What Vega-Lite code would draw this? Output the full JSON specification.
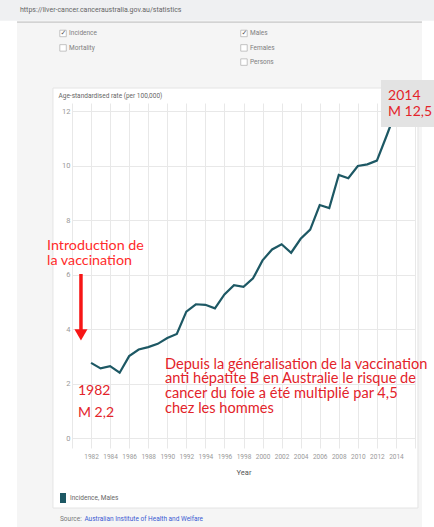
{
  "$schema": "https://vega.github.io/schema/vega-lite/v6.json",
  "width": 343,
  "height": 345,
  "autosize": {"type": "none"},
  "padding": {"left": 72, "top": 103, "right": 19, "bottom": 79},
  "background": "#ffffff",
  "config": {"view": {"stroke": null}, "font": "Lato", "axis": {"titleFontWeight": "normal"}},
  "datasets": {
    "series": [
      {"year": 1982, "rate": 2.77, "series": "Incidence, Males"},
      {"year": 1983, "rate": 2.57, "series": "Incidence, Males"},
      {"year": 1984, "rate": 2.65, "series": "Incidence, Males"},
      {"year": 1985, "rate": 2.41, "series": "Incidence, Males"},
      {"year": 1986, "rate": 3.02, "series": "Incidence, Males"},
      {"year": 1987, "rate": 3.26, "series": "Incidence, Males"},
      {"year": 1988, "rate": 3.35, "series": "Incidence, Males"},
      {"year": 1989, "rate": 3.47, "series": "Incidence, Males"},
      {"year": 1990, "rate": 3.68, "series": "Incidence, Males"},
      {"year": 1991, "rate": 3.83, "series": "Incidence, Males"},
      {"year": 1992, "rate": 4.65, "series": "Incidence, Males"},
      {"year": 1993, "rate": 4.92, "series": "Incidence, Males"},
      {"year": 1994, "rate": 4.9, "series": "Incidence, Males"},
      {"year": 1995, "rate": 4.77, "series": "Incidence, Males"},
      {"year": 1996, "rate": 5.28, "series": "Incidence, Males"},
      {"year": 1997, "rate": 5.62, "series": "Incidence, Males"},
      {"year": 1998, "rate": 5.56, "series": "Incidence, Males"},
      {"year": 1999, "rate": 5.87, "series": "Incidence, Males"},
      {"year": 2000, "rate": 6.53, "series": "Incidence, Males"},
      {"year": 2001, "rate": 6.93, "series": "Incidence, Males"},
      {"year": 2002, "rate": 7.12, "series": "Incidence, Males"},
      {"year": 2003, "rate": 6.81, "series": "Incidence, Males"},
      {"year": 2004, "rate": 7.32, "series": "Incidence, Males"},
      {"year": 2005, "rate": 7.66, "series": "Incidence, Males"},
      {"year": 2006, "rate": 8.56, "series": "Incidence, Males"},
      {"year": 2007, "rate": 8.45, "series": "Incidence, Males"},
      {"year": 2008, "rate": 9.66, "series": "Incidence, Males"},
      {"year": 2009, "rate": 9.54, "series": "Incidence, Males"},
      {"year": 2010, "rate": 9.99, "series": "Incidence, Males"},
      {"year": 2011, "rate": 10.05, "series": "Incidence, Males"},
      {"year": 2012, "rate": 10.19, "series": "Incidence, Males"},
      {"year": 2013, "rate": 11.08, "series": "Incidence, Males"},
      {"year": 2014, "rate": 12.0, "series": "Incidence, Males"}
    ],
    "frame": [
      {"x1": 1974.23, "x2": 2016.73, "y1": 12.85, "y2": 15.27},
      {"x1": 1974.23, "x2": 2016.73, "y1": -3.4, "y2": -2.55},
      {"x1": 1974.23, "x2": 1978.0, "y1": -2.55, "y2": 12.85},
      {"x1": 2016.31, "x2": 2016.73, "y1": -2.55, "y2": 12.85}
    ],
    "urlbar": [{"x1": 1972.2, "x2": 2018.3, "y1": 15.32, "y2": 16.2}],
    "underline": [{"x1": 1974.23, "x2": 2016.73, "y1": 15.23, "y2": 15.3}],
    "panel": [{"x1": 1978.0, "x2": 2016.31, "y1": -2.55, "y2": 12.85}],
    "box": [{"x1": 2012.43, "x2": 2018.3, "y1": 11.42, "y2": 13.14}],
    "checkboxes": [
      {"x": 1979.06, "y": 14.85},
      {"x": 1979.06, "y": 14.32},
      {"x": 1998.05, "y": 14.85},
      {"x": 1998.05, "y": 14.32},
      {"x": 1998.05, "y": 13.8}
    ],
    "checks": [
      {"x": 1979.1, "y": 14.86, "label": "✓"},
      {"x": 1998.09, "y": 14.86, "label": "✓"}
    ],
    "options": [
      {"x": 1979.69, "y": 14.85, "label": "Incidence"},
      {"x": 1979.69, "y": 14.32, "label": "Mortality"},
      {"x": 1998.68, "y": 14.85, "label": "Males"},
      {"x": 1998.68, "y": 14.32, "label": "Females"},
      {"x": 1998.68, "y": 13.8, "label": "Persons"}
    ],
    "url": [{"x": 1974.54, "y": 15.71, "label": "https://liver-cancer.canceraustralia.gov.au/statistics"}],
    "arrow": [{"x": 1980.94, "y1": 6.03, "y2": 3.95}],
    "arrowhead": [{"x": 1980.94, "y": 3.8}],
    "intro": [
      {"x": 1977.38, "y": 7.07, "label": "Introduction de"},
      {"x": 1977.38, "y": 6.51, "label": "la vaccination"}
    ],
    "numbers": [
      {"x": 1980.63, "y": 1.739, "label": "1982"},
      {"x": 1980.63, "y": 0.932, "label": "M 2,2"},
      {"x": 2013.17, "y": 12.557, "label": "2014"},
      {"x": 2013.17, "y": 11.97, "label": "M 12,5"}
    ],
    "notes": [
      {"x": 1989.76, "y": 2.711, "label": "Depuis la généralisation de la vaccination"},
      {"x": 1989.76, "y": 2.168, "label": "anti hépatite B en Australie le risque de"},
      {"x": 1989.76, "y": 1.625, "label": "cancer du foie a été multiplié par 4,5"},
      {"x": 1989.76, "y": 1.083, "label": "chez les hommes"}
    ],
    "source": [{"x": 1978.74, "y": -2.955, "label": "Source:"}],
    "sourcelink": [{"x": 1981.3, "y": -2.955, "label": "Australian Institute of Health and Welfare"}]
  },
  "layer": [
    {
      "data": {"name": "frame"},
      "mark": {"type": "rect", "fill": "#f5f5f5", "clip": false},
      "encoding": {
        "x": {
          "field": "x1", "type": "quantitative",
          "scale": {"domain": [1980, 2016], "nice": false, "zero": false},
          "axis": {
            "title": "Year",
            "values": [1980, 1982, 1984, 1986, 1988, 1990, 1992, 1994, 1996, 1998, 2000, 2002, 2004, 2006, 2008, 2010, 2012, 2014, 2016],
            "tickCount": 40,
            "labelExpr": "datum.value == 1980 || datum.value == 2016 ? '' : datum.label",
            "format": "d",
            "labelOverlap": false,
            "grid": true, "gridColor": "#e8e8e8", "domain": false, "ticks": false,
            "labelFont": "Liberation Sans Narrow, Roboto, sans-serif",
            "labelFontSize": 6.5, "labelColor": "#999999", "labelPadding": 5,
            "titleFont": "Liberation Sans Narrow, Roboto, sans-serif",
            "titleFontSize": 7.5, "titleFontWeight": "normal", "titleColor": "#555555", "titlePadding": 9
          }
        },
        "x2": {"field": "x2"},
        "y": {
          "field": "y1", "type": "quantitative",
          "scale": {"domain": [-0.35, 12.3], "nice": false, "zero": false},
          "axis": {
            "title": "Age-standardised rate (per 100,000)",
            "values": [0, 2, 4, 6, 8, 10, 12],
            "format": "d",
            "labelOverlap": false,
            "grid": true, "gridColor": "#e8e8e8", "domain": false, "ticks": false,
            "labelFont": "Liberation Sans Narrow, Roboto, sans-serif",
            "labelFontSize": 7.5, "labelColor": "#999999", "labelPadding": 2,
            "titleFont": "Liberation Sans Narrow, Roboto, sans-serif",
            "titleAngle": 0, "titleAlign": "left", "titleBaseline": "middle",
            "titleX": -14, "titleY": -8,
            "titleFontSize": 6.5, "titleFontWeight": "normal", "titleColor": "#666666"
          }
        },
        "y2": {"field": "y2"}
      }
    },
    {
      "data": {"name": "urlbar"},
      "mark": {"type": "rect", "fill": "#eff0f2", "clip": false},
      "encoding": {"x": {"field": "x1", "type": "quantitative"}, "x2": {"field": "x2"}, "y": {"field": "y1", "type": "quantitative"}, "y2": {"field": "y2"}}
    },
    {
      "data": {"name": "underline"},
      "mark": {"type": "rect", "fill": "#d3d3d3", "clip": false},
      "encoding": {"x": {"field": "x1", "type": "quantitative"}, "x2": {"field": "x2"}, "y": {"field": "y1", "type": "quantitative"}, "y2": {"field": "y2"}}
    },
    {
      "data": {"name": "panel"},
      "mark": {"type": "rect", "filled": false, "stroke": "#e4e4e4", "strokeWidth": 1, "clip": false},
      "encoding": {"x": {"field": "x1", "type": "quantitative"}, "x2": {"field": "x2"}, "y": {"field": "y1", "type": "quantitative"}, "y2": {"field": "y2"}}
    },
    {
      "data": {"name": "series"},
      "mark": {"type": "line", "strokeWidth": 2.2, "clip": false},
      "encoding": {
        "x": {"field": "year", "type": "quantitative"},
        "y": {"field": "rate", "type": "quantitative"},
        "color": {
          "field": "series", "type": "nominal",
          "scale": {"range": ["#1d5864"]},
          "legend": {
            "orient": "none", "legendX": -14, "legendY": 390, "title": null, "padding": 0,
            "symbolType": "M-0.6,-1L0.6,-1L0.6,1L-0.6,1Z", "symbolSize": 100,
            "labelFont": "Liberation Sans Narrow, Roboto, sans-serif",
            "labelFontSize": 6.5, "labelColor": "#666666", "labelOffset": 2,
            "encode": {"symbols": {"update": {"fill": {"value": "#1d5864"}, "strokeWidth": {"value": 0}}}}
          }
        }
      }
    },
    {
      "data": {"name": "box"},
      "mark": {"type": "rect", "fill": "#e3e3e3", "clip": false},
      "encoding": {"x": {"field": "x1", "type": "quantitative"}, "x2": {"field": "x2"}, "y": {"field": "y1", "type": "quantitative"}, "y2": {"field": "y2"}}
    },
    {
      "data": {"name": "checkboxes"},
      "mark": {"type": "point", "shape": "square", "size": 42, "filled": true, "fill": "#ffffff", "stroke": "#b5b5b5", "strokeWidth": 0.8, "opacity": 1, "clip": false},
      "encoding": {"x": {"field": "x", "type": "quantitative"}, "y": {"field": "y", "type": "quantitative"}}
    },
    {
      "data": {"name": "checks"},
      "mark": {"type": "text", "font": "DejaVu Sans", "fontSize": 7, "color": "#555555", "align": "center", "baseline": "middle", "clip": false},
      "encoding": {"x": {"field": "x", "type": "quantitative"}, "y": {"field": "y", "type": "quantitative"}, "text": {"field": "label"}}
    },
    {
      "data": {"name": "options"},
      "mark": {"type": "text", "font": "Liberation Sans Narrow, Roboto, sans-serif", "fontSize": 6.5, "color": "#808080", "align": "left", "baseline": "middle", "clip": false},
      "encoding": {"x": {"field": "x", "type": "quantitative"}, "y": {"field": "y", "type": "quantitative"}, "text": {"field": "label"}}
    },
    {
      "data": {"name": "url"},
      "mark": {"type": "text", "font": "Liberation Sans Narrow, Roboto, sans-serif", "fontSize": 7, "color": "#666666", "align": "left", "baseline": "middle", "clip": false},
      "encoding": {"x": {"field": "x", "type": "quantitative"}, "y": {"field": "y", "type": "quantitative"}, "text": {"field": "label"}}
    },
    {
      "data": {"name": "arrow"},
      "mark": {"type": "rule", "color": "#f71616", "strokeWidth": 3.5, "clip": false},
      "encoding": {"x": {"field": "x", "type": "quantitative"}, "y": {"field": "y1", "type": "quantitative"}, "y2": {"field": "y2"}}
    },
    {
      "data": {"name": "arrowhead"},
      "mark": {"type": "point", "shape": "triangle-down", "size": 170, "filled": true, "color": "#f71616", "opacity": 1, "clip": false},
      "encoding": {"x": {"field": "x", "type": "quantitative"}, "y": {"field": "y", "type": "quantitative"}}
    },
    {
      "data": {"name": "intro"},
      "mark": {"type": "text", "font": "Lato", "fontSize": 14.3, "color": "#ff2b2b", "align": "left", "baseline": "middle", "clip": false},
      "encoding": {"x": {"field": "x", "type": "quantitative"}, "y": {"field": "y", "type": "quantitative"}, "text": {"field": "label"}}
    },
    {
      "data": {"name": "numbers"},
      "mark": {"type": "text", "font": "Lato", "fontSize": 14, "color": "#e3232a", "align": "left", "baseline": "middle", "clip": false},
      "encoding": {"x": {"field": "x", "type": "quantitative"}, "y": {"field": "y", "type": "quantitative"}, "text": {"field": "label"}}
    },
    {
      "data": {"name": "notes"},
      "mark": {"type": "text", "font": "Lato", "fontSize": 14.6, "color": "#e3232a", "align": "left", "baseline": "middle", "clip": false},
      "encoding": {"x": {"field": "x", "type": "quantitative"}, "y": {"field": "y", "type": "quantitative"}, "text": {"field": "label"}}
    },
    {
      "data": {"name": "source"},
      "mark": {"type": "text", "font": "Liberation Sans Narrow, Roboto, sans-serif", "fontSize": 6.5, "color": "#777777", "align": "left", "baseline": "middle", "clip": false},
      "encoding": {"x": {"field": "x", "type": "quantitative"}, "y": {"field": "y", "type": "quantitative"}, "text": {"field": "label"}}
    },
    {
      "data": {"name": "sourcelink"},
      "mark": {"type": "text", "font": "Liberation Sans Narrow, Roboto, sans-serif", "fontSize": 6.5, "color": "#3b5bd3", "align": "left", "baseline": "middle", "clip": false},
      "encoding": {"x": {"field": "x", "type": "quantitative"}, "y": {"field": "y", "type": "quantitative"}, "text": {"field": "label"}}
    }
  ]
}
